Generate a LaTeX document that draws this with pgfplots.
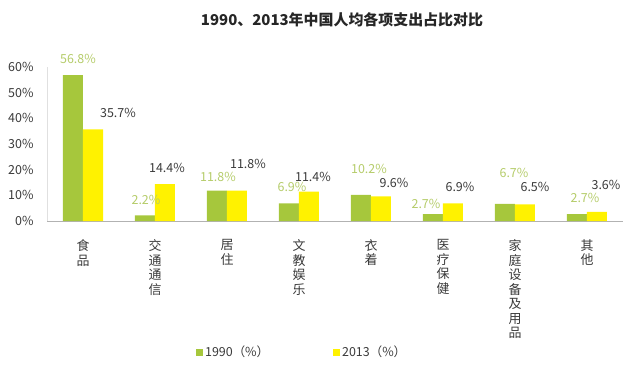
\documentclass[border=0pt]{standalone}
\usepackage{fontspec}
\setmainfont{Noto Sans CJK SC}
\usepackage{pgfplots}
\usepackage{pgfplotstable}
\pgfplotsset{compat=1.18}
\definecolor{gbar}{HTML}{A6C73C}
\definecolor{ybar}{HTML}{FFF200}
\definecolor{glab}{HTML}{B5CC6A}
\definecolor{dlab}{HTML}{3A3A3A}
\pgfplotstableread{
x a dxa dya b dxb dyb
0 56.8 5 16 35.7 25 16
1 2.2 1 15 14.4 2 16
2 11.8 1 14 11.8 11 27
3 6.9 3 16 11.4 4 15
4 10.2 8 26 9.6 13 13
5 2.7 -7 10 6.9 7 16
6 6.7 9 31 6.5 10 17
7 2.7 8 16 3.6 9 27
}\data
\begin{document}
\begin{tikzpicture}
\useasboundingbox (0bp,0bp) rectangle (640bp,367bp);
\node[font=\fontsize{15}{17}\selectfont\bfseries, text=black!85] at (342bp,347bp) {1990、2013年中国人均各项支出占比对比};
\begin{axis}[
 at={(47bp,146bp)}, anchor=south west,
 scale only axis, width=576bp, height=154bp,
 xmin=-0.5, xmax=7.5, ymin=0, ymax=60,
 ybar=0pt, bar width=20bp,
 clip=false,
 separate axis lines,
 axis x line*=bottom, axis y line*=left,
 axis line style={-},
 x axis line style={draw=black!30},
 y axis line style={draw=black!12},
 major tick length=0pt,
 ytick={0,10,...,60},
 yticklabel={\pgfmathprintnumber{\tick}\%},
 /pgf/number format/assume math mode=true,
 yticklabel style={font=\fontsize{12.5}{14}\selectfont, text=dlab, xshift=-10bp},
 xtick=data,
 xticklabels={{食\\品},{交\\通\\通\\信},{居\\住},{文\\教\\娱\\乐},{衣\\着},{医\\疗\\保\\健},{家\\庭\\设\\备\\及\\用\\品},{其\\他}},
 xticklabel style={font=\fontsize{13}{14.6}\selectfont, text=dlab, align=center, anchor=north, yshift=-15bp},
 nodes near coords={\pgfmathprintnumber[fixed,fixed zerofill,precision=1]{\pgfplotspointmeta}\%},
 legend style={at={(0.443,-0.851)}, anchor=center, draw=none, fill=none, legend columns=2,
   font=\fontsize{12.5}{14}\selectfont, text=dlab,
   /tikz/every even column/.append style={column sep=62bp}},
 legend image code/.code={\fill[#1] (0bp,-3.5bp) rectangle (7bp,3.5bp);},
]
\addplot[fill=gbar, draw=none,
  visualization depends on={\thisrow{dxa}\as\dx},
  visualization depends on={\thisrow{dya}\as\dy},
  every node near coord/.append style={text=glab, anchor=center, font=\fontsize{12.5}{14}\selectfont, xshift=\dx bp, yshift=\dy bp}]
  table[x=x,y=a]{\data};
\addlegendentry{1990（\%）}
\addplot[fill=ybar, draw=none,
  visualization depends on={\thisrow{dxb}\as\dx},
  visualization depends on={\thisrow{dyb}\as\dy},
  every node near coord/.append style={text=dlab, anchor=center, font=\fontsize{12.5}{14}\selectfont, xshift=\dx bp, yshift=\dy bp}]
  table[x=x,y=b]{\data};
\addlegendentry{2013（\%）}
\end{axis}
\end{tikzpicture}
\end{document}
